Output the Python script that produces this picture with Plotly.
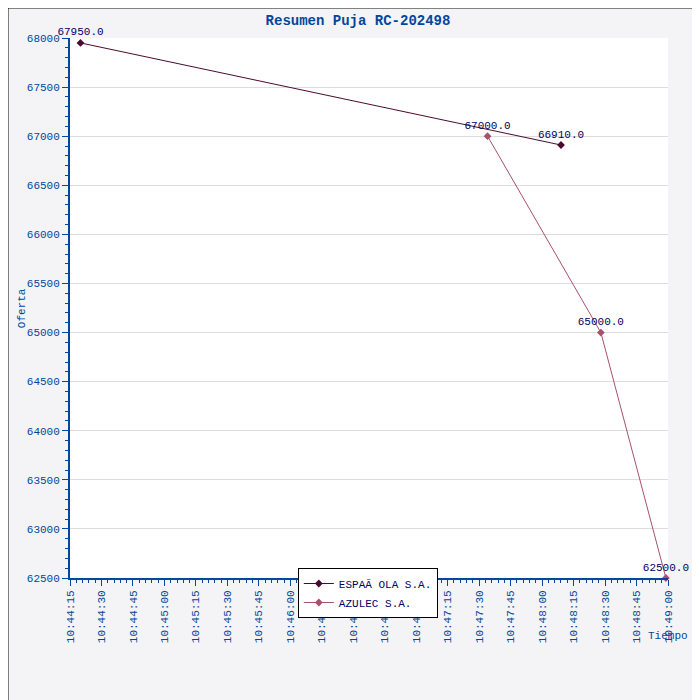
import plotly.graph_objects as go

names = ["ESPAÃ OLA S.A.", "AZULEC S.A."]
times_1 = ["2024-01-01 10:44:20", "2024-01-01 10:48:09"]
bids_1 = [67950.0, 66910.0]
times_2 = ["2024-01-01 10:47:34", "2024-01-01 10:48:28", "2024-01-01 10:48:59"]
bids_2 = [67000.0, 65000.0, 62500.0]
colors = ["#4a0a30", "#a8506e"]

font = "Liberation Mono, DejaVu Sans Mono, monospace"
blue = "#00479d"

fig = go.Figure()
for name, t, v, c in [(names[0], times_1, bids_1, colors[0]), (names[1], times_2, bids_2, colors[1])]:
    fig.add_trace(go.Scatter(
        x=t, y=v, name=name, mode="lines+markers+text",
        line=dict(color=c, width=1), marker=dict(symbol="diamond", size=6, color=c),
        text=[f"{x:.1f}" for x in v], textposition="top center",
        textfont=dict(color="#000066", size=11, family=font), cliponaxis=False,
    ))

fig.update_layout(
    width=700, height=700,
    paper_bgcolor="#f4f4f6", plot_bgcolor="white",
    margin=dict(l=62, r=40, t=30, b=130, autoexpand=False),
    title=dict(text="<b>Resumen Puja RC-202498</b>", x=0.5, y=0.983, xanchor="center", yanchor="middle",
               font=dict(family=font, size=14, color=blue)),
    font=dict(family=font, size=11, color=blue),
    showlegend=True,
    legend=dict(x=0.381, y=0.0185, xanchor="left", yanchor="top", bgcolor="white",
                bordercolor="black", borderwidth=1, font=dict(color="#000066", size=11),
                tracegroupgap=0),
    shapes=[dict(type="rect", xref="paper", yref="paper", x0=-0.1037, x1=1.065, y0=-0.239, y1=1.0556,
                 line=dict(color="black", width=1))],
    annotations=[
        dict(text="Tiempo", xref="paper", yref="paper", x=1.0, y=-0.108, xanchor="center",
             yanchor="middle", showarrow=False, font=dict(size=11, color=blue)),
        dict(text="Oferta", xref="paper", yref="paper", x=-0.08, y=0.5, textangle=-90,
             xanchor="center", yanchor="middle", showarrow=False, font=dict(size=11, color=blue)),
    ],
)
fig.update_xaxes(
    range=["2024-01-01 10:44:15", "2024-01-01 10:49:00"], dtick=15000, tickformat="%H:%M:%S",
    tickangle=-90, showgrid=False, ticks="outside", ticklen=6, tickcolor=blue, automargin=False,
    showline=True, linecolor=blue, linewidth=2,
    minor=dict(dtick=3000, ticks="outside", ticklen=3, tickcolor=blue),
)
fig.update_yaxes(
    range=[62500, 68000], dtick=500, tickformat="d", gridcolor="#dddddd", ticks="outside", ticklen=6,
    tickcolor=blue, showline=True, linecolor=blue, linewidth=2, automargin=False,
    minor=dict(dtick=100, ticks="outside", ticklen=3, tickcolor=blue),
)
fig.write_html("out.html")
